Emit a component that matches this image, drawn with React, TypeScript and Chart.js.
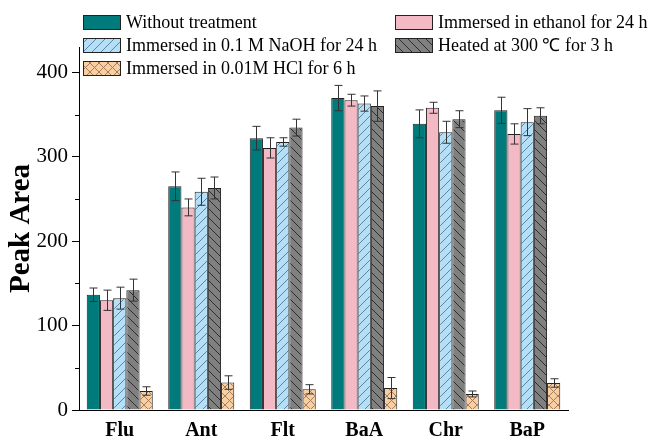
import React, { useEffect, useRef } from "react";
import { Chart, registerables } from "chart.js";

Chart.register(...registerables);

const categories = ["Flu", "Ant", "Flt", "BaA", "Chr", "BaP"];

const seriesNames = [
  "Without treatment",
  "Immersed in ethanol for 24 h",
  "Immersed in 0.1 M NaOH for 24 h",
  "Heated at 300 \u2103 for 3 h",
  "Immersed in 0.01M HCl for 6 h",
];

const withoutTreatment = [136.5, 265, 322, 369.5, 339, 355];
const withoutTreatmentErr = [8, 17, 14, 15, 16.5, 15.5];
const ethanol = [130, 240, 310.5, 367, 358, 327];
const ethanolErr = [12, 10, 12, 7, 6.5, 12];
const naoh = [132.5, 258.5, 317.5, 363, 329, 341];
const naohErr = [13, 16, 5, 9, 13, 16];
const heated = [142, 263, 334.5, 360, 344.5, 348.5];
const heatedErr = [13, 13, 10, 18, 10, 9.5];
const hcl = [22.5, 32.5, 24.5, 26, 19, 32];
const hclErr = [5, 8, 5.5, 12.5, 3.5, 5];

const yTicks = [0, 100, 200, 300, 400];
const yMinorTicks = [50, 150, 250, 350];

const SERIF = '"Liberation Serif", "Times New Roman", serif';

type Hatch = "none" | "fwd" | "back" | "cross";

function makeFill(
  ctx: CanvasRenderingContext2D,
  bg: string,
  line: string,
  kind: Hatch,
  size: number
): string | CanvasPattern {
  if (kind === "none") return bg;
  const c = document.createElement("canvas");
  c.width = size;
  c.height = size;
  const g = c.getContext("2d")!;
  g.fillStyle = bg;
  g.fillRect(0, 0, size, size);
  g.strokeStyle = line;
  g.lineWidth = 1;
  g.beginPath();
  if (kind === "fwd" || kind === "cross") {
    g.moveTo(-1, size + 1);
    g.lineTo(size + 1, -1);
    g.moveTo(-2, 2);
    g.lineTo(2, -2);
    g.moveTo(size - 2, size + 2);
    g.lineTo(size + 2, size - 2);
  }
  if (kind === "back" || kind === "cross") {
    g.moveTo(-1, -1);
    g.lineTo(size + 1, size + 1);
    g.moveTo(size - 2, -2);
    g.lineTo(size + 2, 2);
    g.moveTo(-2, size - 2);
    g.lineTo(2, size + 2);
  }
  g.stroke();
  return ctx.createPattern(c, "repeat") as CanvasPattern;
}

export default function App() {
  const canvasRef = useRef<HTMLCanvasElement | null>(null);

  useEffect(() => {
    const canvas = canvasRef.current;
    if (!canvas) return;
    const ctx = canvas.getContext("2d")!;

    const fills = [
      makeFill(ctx, "#007a7a", "#000", "none", 8),
      makeFill(ctx, "#f3b9c5", "#000", "none", 8),
      makeFill(ctx, "#b5dff6", "#5b86a3", "fwd", 9),
      makeFill(ctx, "#808080", "#2e2e2e", "back", 9),
      makeFill(ctx, "#f8cfa3", "#a57c5c", "cross", 9),
    ];
    const values = [withoutTreatment, ethanol, naoh, heated, hcl];
    const errors = [withoutTreatmentErr, ethanolErr, naohErr, heatedErr, hclErr];

    const errorBars = {
      id: "errorBars",
      afterDatasetsDraw(chart: any) {
        const c = chart.ctx as CanvasRenderingContext2D;
        const ys = chart.scales.y;
        c.save();
        c.strokeStyle = "#333";
        c.lineWidth = 1;
        chart.data.datasets.forEach((ds: any, i: number) => {
          const meta = chart.getDatasetMeta(i);
          meta.data.forEach((bar: any, j: number) => {
            const v = ds.data[j] as number;
            const e = errors[i][j];
            const x = Math.round(bar.x) + 0.5;
            const top = ys.getPixelForValue(v + e);
            const bot = ys.getPixelForValue(v - e);
            c.beginPath();
            c.moveTo(x, top);
            c.lineTo(x, bot);
            c.moveTo(x - 4, top);
            c.lineTo(x + 4, top);
            c.moveTo(x - 4, bot);
            c.lineTo(x + 4, bot);
            c.stroke();
          });
        });
        c.restore();
      },
    };

    const minorTicks = {
      id: "minorTicks",
      afterDraw(chart: any) {
        const c = chart.ctx as CanvasRenderingContext2D;
        const ys = chart.scales.y;
        const left = chart.chartArea.left;
        c.save();
        c.strokeStyle = "#000";
        c.lineWidth = 1;
        c.beginPath();
        yMinorTicks.forEach((v) => {
          const y = Math.round(ys.getPixelForValue(v)) + 0.5;
          c.moveTo(left - 4, y);
          c.lineTo(left, y);
        });
        c.stroke();
        c.restore();
      },
    };

    const legendBoxes = {
      id: "legendBoxes",
      afterDraw(chart: any) {
        const c = chart.ctx as CanvasRenderingContext2D;
        const slots = [
          { x: 83, y: 22 },
          { x: 395, y: 22 },
          { x: 83, y: 45 },
          { x: 395, y: 45 },
          { x: 83, y: 68 },
        ];
        c.save();
        c.font = `18px ${SERIF}`;
        c.textBaseline = "middle";
        c.textAlign = "left";
        slots.forEach((s, i) => {
          c.fillStyle = fills[i] as any;
          c.fillRect(s.x, s.y - 7, 37, 14);
          c.strokeStyle = "#222";
          c.lineWidth = 1;
          c.strokeRect(s.x + 0.5, s.y - 6.5, 37, 14);
          c.fillStyle = "#000";
          c.fillText(seriesNames[i], s.x + 43, s.y + 1);
        });
        c.restore();
      },
    };

    const chart = new Chart(canvas, {
      type: "bar",
      data: {
        labels: categories,
        datasets: values.map((data, i) => ({
          label: seriesNames[i],
          data,
          backgroundColor: fills[i] as any,
          borderColor: "#222",
          borderWidth: 1,
          categoryPercentage: 0.81,
          barPercentage: 1.0,
        })),
      },
      options: {
        responsive: false,
        animation: false,
        layout: { padding: { left: 0, right: 86, top: 47, bottom: 0 } },
        plugins: {
          legend: { display: false },
          tooltip: { enabled: false },
        },
        scales: {
          x: {
            grid: { display: false, drawTicks: false },
            border: { display: true, color: "#000", width: 1 },
            ticks: {
              color: "#000",
              padding: 9,
              font: { family: SERIF, size: 20, weight: "bold" },
            },
            afterFit(scale: any) {
              scale.height = 30;
            },
          },
          y: {
            min: 0,
            max: 430,
            grid: {
              drawOnChartArea: false,
              drawTicks: true,
              tickLength: 7,
              tickColor: "#000",
            },
            border: { display: true, color: "#000", width: 1 },
            afterBuildTicks(scale: any) {
              scale.ticks = yTicks.map((v) => ({ value: v }));
            },
            ticks: {
              color: "#000",
              padding: 4,
              font: { family: SERIF, size: 21 },
            },
            title: {
              display: true,
              text: "Peak Area",
              color: "#000",
              padding: { top: 4, bottom: 0 },
              font: { family: SERIF, size: 29, weight: "bold" },
            },
            afterFit(scale: any) {
              scale.width = 79;
            },
          },
        },
      },
      plugins: [errorBars, minorTicks, legendBoxes],
    });

    return () => chart.destroy();
  }, []);

  return (
    <div style={{ position: "fixed", left: 0, top: 0, width: 654, height: 440, background: "#fff" }}>
      <canvas ref={canvasRef} width={654} height={440} />
    </div>
  );
}
